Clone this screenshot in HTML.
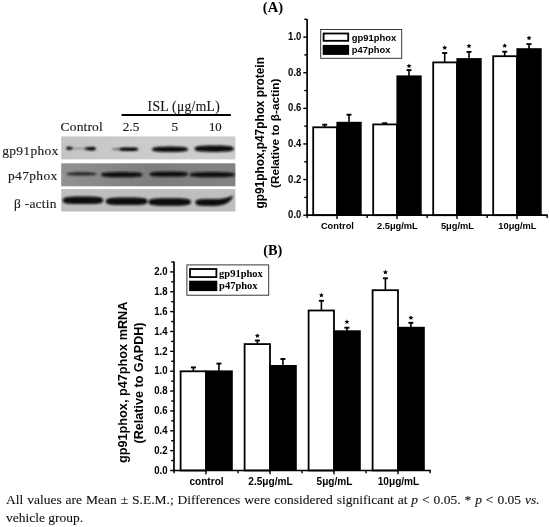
<!DOCTYPE html>
<html><head><meta charset="utf-8"><style>
html,body{margin:0;padding:0;background:#fff;width:550px;height:527px;overflow:hidden;position:relative}
#cap{position:absolute;left:5.6px;top:490.9px;width:533.6px;font-family:"Liberation Serif",serif;font-size:13.5px;line-height:17.6px;text-align:justify;color:#111;will-change:transform;-webkit-text-stroke:0.1px #111}
</style></head><body>
<svg width="550" height="527" viewBox="0 0 550 527" style="position:absolute;left:0;top:0;will-change:transform"><defs><filter id="bl" x="-20%" y="-100%" width="140%" height="300%"><feGaussianBlur stdDeviation="0.85"/></filter><filter id="bl2" x="-20%" y="-100%" width="140%" height="300%"><feGaussianBlur stdDeviation="1.3"/></filter></defs><defs><linearGradient id="g2" x1="0" x2="1" y1="0" y2="0"><stop offset="0" stop-color="#929292"/><stop offset="0.5" stop-color="#7e7e7e"/><stop offset="1" stop-color="#838383"/></linearGradient><linearGradient id="g1" x1="0" x2="1" y1="0" y2="0"><stop offset="0" stop-color="#c4c4c4"/><stop offset="0.4" stop-color="#cbcbcb"/><stop offset="1" stop-color="#cdcdcd"/></linearGradient></defs><rect x="61.2" y="136.4" width="174.2" height="23" fill="url(#g1)"/><rect x="61.2" y="163.3" width="174.2" height="23" fill="url(#g2)"/><rect x="61.2" y="189.1" width="174.2" height="22.4" fill="#bebebe"/><polygon points="70.00,148.50 70.40,148.28 70.80,148.19 71.20,148.13 71.60,148.08 72.00,148.04 72.40,148.00 72.80,147.97 73.20,147.94 73.60,147.92 74.00,147.89 74.40,147.87 74.80,147.86 75.20,147.84 75.60,147.83 76.00,147.82 76.40,147.81 76.80,147.81 77.20,147.80 77.60,147.80 78.00,147.80 78.40,147.80 78.80,147.80 79.20,147.81 79.60,147.81 80.00,147.82 80.40,147.83 80.80,147.84 81.20,147.86 81.60,147.87 82.00,147.89 82.40,147.92 82.80,147.94 83.20,147.97 83.60,148.00 84.00,148.04 84.40,148.08 84.80,148.13 85.20,148.19 85.60,148.28 86.00,148.50 86.00,148.50 85.60,148.72 85.20,148.81 84.80,148.87 84.40,148.92 84.00,148.96 83.60,149.00 83.20,149.03 82.80,149.06 82.40,149.08 82.00,149.11 81.60,149.13 81.20,149.14 80.80,149.16 80.40,149.17 80.00,149.18 79.60,149.19 79.20,149.19 78.80,149.20 78.40,149.20 78.00,149.20 77.60,149.20 77.20,149.20 76.80,149.19 76.40,149.19 76.00,149.18 75.60,149.17 75.20,149.16 74.80,149.14 74.40,149.13 74.00,149.11 73.60,149.08 73.20,149.06 72.80,149.03 72.40,149.00 72.00,148.96 71.60,148.92 71.20,148.87 70.80,148.81 70.40,148.72 70.00,148.50" fill="#8a8a8a" filter="url(#bl)"/><polygon points="66.20,148.30 66.37,147.63 66.54,147.40 66.71,147.25 66.88,147.13 67.05,147.04 67.22,146.97 67.39,146.91 67.56,146.87 67.73,146.83 67.90,146.81 68.07,146.79 68.24,146.78 68.41,146.77 68.58,146.77 68.75,146.78 68.92,146.78 69.09,146.80 69.26,146.81 69.43,146.83 69.60,146.85 69.77,146.87 69.94,146.90 70.11,146.92 70.28,146.96 70.45,146.99 70.62,147.02 70.79,147.06 70.96,147.10 71.13,147.15 71.30,147.20 71.47,147.25 71.64,147.31 71.81,147.37 71.98,147.43 72.15,147.50 72.32,147.58 72.49,147.67 72.66,147.78 72.83,147.93 73.00,148.30 73.00,148.30 72.83,148.67 72.66,148.82 72.49,148.93 72.32,149.02 72.15,149.10 71.98,149.17 71.81,149.23 71.64,149.29 71.47,149.35 71.30,149.40 71.13,149.45 70.96,149.50 70.79,149.54 70.62,149.58 70.45,149.61 70.28,149.64 70.11,149.68 69.94,149.70 69.77,149.73 69.60,149.75 69.43,149.77 69.26,149.79 69.09,149.80 68.92,149.82 68.75,149.82 68.58,149.83 68.41,149.83 68.24,149.82 68.07,149.81 67.90,149.79 67.73,149.77 67.56,149.73 67.39,149.69 67.22,149.63 67.05,149.56 66.88,149.47 66.71,149.35 66.54,149.20 66.37,148.97 66.20,148.30" fill="#000" filter="url(#bl)"/><polygon points="84.00,148.70 84.30,148.30 84.60,148.15 84.90,148.03 85.20,147.93 85.50,147.84 85.80,147.76 86.10,147.68 86.40,147.61 86.70,147.54 87.00,147.48 87.30,147.42 87.60,147.37 87.90,147.32 88.20,147.27 88.50,147.23 88.80,147.19 89.10,147.15 89.40,147.11 89.70,147.08 90.00,147.05 90.30,147.02 90.60,147.00 90.90,146.98 91.20,146.96 91.50,146.94 91.80,146.94 92.10,146.93 92.40,146.94 92.70,146.95 93.00,146.97 93.30,146.99 93.60,147.03 93.90,147.08 94.20,147.14 94.50,147.22 94.80,147.33 95.10,147.46 95.40,147.64 95.70,147.90 96.00,148.70 96.00,148.70 95.70,149.50 95.40,149.76 95.10,149.94 94.80,150.07 94.50,150.18 94.20,150.26 93.90,150.32 93.60,150.37 93.30,150.41 93.00,150.43 92.70,150.45 92.40,150.46 92.10,150.47 91.80,150.46 91.50,150.46 91.20,150.44 90.90,150.42 90.60,150.40 90.30,150.38 90.00,150.35 89.70,150.32 89.40,150.29 89.10,150.25 88.80,150.21 88.50,150.17 88.20,150.13 87.90,150.08 87.60,150.03 87.30,149.98 87.00,149.92 86.70,149.86 86.40,149.79 86.10,149.72 85.80,149.64 85.50,149.56 85.20,149.47 84.90,149.37 84.60,149.25 84.30,149.10 84.00,148.70" fill="#050505" filter="url(#bl)"/><polygon points="111.00,149.20 111.35,148.97 111.70,148.87 112.05,148.78 112.40,148.71 112.75,148.64 113.10,148.58 113.45,148.53 113.80,148.47 114.15,148.42 114.50,148.37 114.85,148.32 115.20,148.28 115.55,148.23 115.90,148.19 116.25,148.15 116.60,148.12 116.95,148.08 117.30,148.05 117.65,148.03 118.00,148.00 118.35,147.98 118.70,147.96 119.05,147.94 119.40,147.93 119.75,147.92 120.10,147.92 120.45,147.92 120.80,147.92 121.15,147.94 121.50,147.95 121.85,147.98 122.20,148.01 122.55,148.05 122.90,148.10 123.25,148.17 123.60,148.25 123.95,148.35 124.30,148.49 124.65,148.68 125.00,149.20 125.00,149.20 124.65,149.72 124.30,149.91 123.95,150.05 123.60,150.15 123.25,150.23 122.90,150.30 122.55,150.35 122.20,150.39 121.85,150.42 121.50,150.45 121.15,150.46 120.80,150.48 120.45,150.48 120.10,150.48 119.75,150.48 119.40,150.47 119.05,150.46 118.70,150.44 118.35,150.42 118.00,150.40 117.65,150.37 117.30,150.35 116.95,150.32 116.60,150.28 116.25,150.25 115.90,150.21 115.55,150.17 115.20,150.12 114.85,150.08 114.50,150.03 114.15,149.98 113.80,149.93 113.45,149.87 113.10,149.82 112.75,149.76 112.40,149.69 112.05,149.62 111.70,149.53 111.35,149.43 111.00,149.20" fill="#6a6a6a" filter="url(#bl)"/><polygon points="119.50,149.20 119.97,148.54 120.45,148.32 120.92,148.17 121.40,148.05 121.88,147.95 122.35,147.87 122.83,147.80 123.30,147.74 123.78,147.68 124.25,147.63 124.72,147.59 125.20,147.55 125.67,147.52 126.15,147.50 126.62,147.47 127.10,147.45 127.58,147.43 128.05,147.42 128.53,147.41 129.00,147.40 129.47,147.39 129.95,147.39 130.43,147.38 130.90,147.38 131.38,147.38 131.85,147.39 132.32,147.40 132.80,147.42 133.28,147.44 133.75,147.47 134.22,147.50 134.70,147.55 135.18,147.60 135.65,147.67 136.12,147.75 136.60,147.85 137.07,147.98 137.55,148.15 138.03,148.40 138.50,149.20 138.50,149.20 138.03,150.00 137.55,150.25 137.07,150.42 136.60,150.55 136.12,150.65 135.65,150.73 135.18,150.80 134.70,150.85 134.22,150.90 133.75,150.93 133.28,150.96 132.80,150.98 132.32,151.00 131.85,151.01 131.38,151.02 130.90,151.02 130.43,151.02 129.95,151.01 129.47,151.01 129.00,151.00 128.53,150.99 128.05,150.98 127.58,150.97 127.10,150.95 126.62,150.93 126.15,150.90 125.67,150.88 125.20,150.85 124.72,150.81 124.25,150.77 123.78,150.72 123.30,150.66 122.83,150.60 122.35,150.53 121.88,150.45 121.40,150.35 120.92,150.23 120.45,150.08 119.97,149.86 119.50,149.20" fill="#050505" filter="url(#bl)"/><polygon points="151.80,149.30 152.71,147.98 153.62,147.64 154.53,147.42 155.44,147.25 156.35,147.11 157.26,147.01 158.17,146.92 159.08,146.85 159.99,146.79 160.90,146.75 161.81,146.71 162.72,146.68 163.63,146.65 164.54,146.63 165.45,146.62 166.36,146.61 167.27,146.60 168.18,146.60 169.09,146.60 170.00,146.60 170.91,146.60 171.82,146.60 172.73,146.60 173.64,146.61 174.55,146.62 175.46,146.63 176.37,146.65 177.28,146.68 178.19,146.71 179.10,146.75 180.01,146.79 180.92,146.85 181.83,146.92 182.74,147.01 183.65,147.11 184.56,147.25 185.47,147.42 186.38,147.64 187.29,147.98 188.20,149.30 188.20,149.30 187.29,150.62 186.38,150.96 185.47,151.18 184.56,151.35 183.65,151.49 182.74,151.59 181.83,151.68 180.92,151.75 180.01,151.81 179.10,151.85 178.19,151.89 177.28,151.92 176.37,151.95 175.46,151.97 174.55,151.98 173.64,151.99 172.73,152.00 171.82,152.00 170.91,152.00 170.00,152.00 169.09,152.00 168.18,152.00 167.27,152.00 166.36,151.99 165.45,151.98 164.54,151.97 163.63,151.95 162.72,151.92 161.81,151.89 160.90,151.85 159.99,151.81 159.08,151.75 158.17,151.68 157.26,151.59 156.35,151.49 155.44,151.35 154.53,151.18 153.62,150.96 152.71,150.62 151.80,149.30" fill="#0c0c0c" filter="url(#bl)"/><polygon points="194.30,148.70 195.29,147.14 196.29,146.73 197.28,146.47 198.27,146.27 199.26,146.11 200.25,145.98 201.25,145.88 202.24,145.80 203.23,145.73 204.23,145.67 205.22,145.63 206.21,145.59 207.20,145.56 208.19,145.54 209.19,145.52 210.18,145.51 211.17,145.51 212.17,145.50 213.16,145.50 214.15,145.50 215.14,145.50 216.13,145.50 217.13,145.51 218.12,145.51 219.11,145.52 220.11,145.54 221.10,145.56 222.09,145.59 223.08,145.63 224.07,145.67 225.07,145.73 226.06,145.80 227.05,145.88 228.05,145.98 229.04,146.11 230.03,146.27 231.02,146.47 232.01,146.73 233.01,147.14 234.00,148.70 234.00,148.70 233.01,150.26 232.01,150.67 231.02,150.93 230.03,151.13 229.04,151.29 228.05,151.42 227.05,151.52 226.06,151.60 225.07,151.67 224.07,151.73 223.08,151.77 222.09,151.81 221.10,151.84 220.11,151.86 219.11,151.88 218.12,151.89 217.13,151.89 216.13,151.90 215.14,151.90 214.15,151.90 213.16,151.90 212.17,151.90 211.17,151.89 210.18,151.89 209.19,151.88 208.19,151.86 207.20,151.84 206.21,151.81 205.22,151.77 204.23,151.73 203.23,151.67 202.24,151.60 201.25,151.52 200.25,151.42 199.26,151.29 198.27,151.13 197.28,150.93 196.29,150.67 195.29,150.26 194.30,148.70" fill="#0a0a0a" filter="url(#bl)"/><polygon points="66.60,173.90 67.35,173.18 68.11,172.98 68.86,172.84 69.62,172.73 70.38,172.65 71.13,172.58 71.88,172.53 72.64,172.48 73.39,172.44 74.15,172.41 74.91,172.38 75.66,172.36 76.41,172.34 77.17,172.33 77.92,172.32 78.68,172.31 79.44,172.30 80.19,172.30 80.94,172.30 81.70,172.30 82.45,172.30 83.21,172.30 83.97,172.30 84.72,172.31 85.47,172.32 86.23,172.33 86.98,172.34 87.74,172.36 88.50,172.38 89.25,172.41 90.00,172.44 90.76,172.48 91.52,172.53 92.27,172.58 93.03,172.65 93.78,172.73 94.53,172.84 95.29,172.98 96.05,173.18 96.80,173.90 96.80,173.90 96.05,174.62 95.29,174.82 94.53,174.96 93.78,175.07 93.03,175.15 92.27,175.22 91.52,175.27 90.76,175.32 90.00,175.36 89.25,175.39 88.50,175.42 87.74,175.44 86.98,175.46 86.23,175.47 85.47,175.48 84.72,175.49 83.97,175.50 83.21,175.50 82.45,175.50 81.70,175.50 80.94,175.50 80.19,175.50 79.44,175.50 78.68,175.49 77.92,175.48 77.17,175.47 76.41,175.46 75.66,175.44 74.91,175.42 74.15,175.39 73.39,175.36 72.64,175.32 71.88,175.27 71.13,175.22 70.38,175.15 69.62,175.07 68.86,174.96 68.11,174.82 67.35,174.62 66.60,173.90" fill="#222" filter="url(#bl)"/><polygon points="100.80,174.70 101.84,173.34 102.89,173.02 103.94,172.81 104.98,172.65 106.02,172.53 107.07,172.44 108.11,172.36 109.16,172.30 110.20,172.25 111.25,172.21 112.30,172.18 113.34,172.16 114.38,172.14 115.43,172.12 116.47,172.11 117.52,172.11 118.56,172.10 119.61,172.10 120.66,172.10 121.70,172.10 122.75,172.10 123.79,172.10 124.83,172.10 125.88,172.11 126.92,172.11 127.97,172.12 129.01,172.14 130.06,172.16 131.10,172.18 132.15,172.21 133.19,172.25 134.24,172.30 135.28,172.36 136.33,172.44 137.38,172.53 138.42,172.65 139.47,172.81 140.51,173.02 141.56,173.34 142.60,174.70 142.60,174.70 141.56,176.06 140.51,176.38 139.47,176.59 138.42,176.75 137.38,176.87 136.33,176.96 135.28,177.04 134.24,177.10 133.19,177.15 132.15,177.19 131.10,177.22 130.06,177.24 129.01,177.26 127.97,177.28 126.92,177.29 125.88,177.29 124.83,177.30 123.79,177.30 122.75,177.30 121.70,177.30 120.66,177.30 119.61,177.30 118.56,177.30 117.52,177.29 116.47,177.29 115.43,177.28 114.38,177.26 113.34,177.24 112.30,177.22 111.25,177.19 110.20,177.15 109.16,177.10 108.11,177.04 107.07,176.96 106.02,176.87 104.98,176.75 103.94,176.59 102.89,176.38 101.84,176.06 100.80,174.70" fill="#0e0e0e" filter="url(#bl)"/><polygon points="149.40,174.20 150.37,172.84 151.34,172.52 152.31,172.31 153.28,172.15 154.25,172.03 155.22,171.94 156.19,171.86 157.16,171.80 158.13,171.75 159.10,171.71 160.07,171.68 161.04,171.66 162.01,171.64 162.98,171.62 163.95,171.61 164.92,171.61 165.89,171.60 166.86,171.60 167.83,171.60 168.80,171.60 169.77,171.60 170.74,171.60 171.71,171.60 172.68,171.61 173.65,171.61 174.62,171.62 175.59,171.64 176.56,171.66 177.53,171.68 178.50,171.71 179.47,171.75 180.44,171.80 181.41,171.86 182.38,171.94 183.35,172.03 184.32,172.15 185.29,172.31 186.26,172.52 187.23,172.84 188.20,174.20 188.20,174.20 187.23,175.56 186.26,175.88 185.29,176.09 184.32,176.25 183.35,176.37 182.38,176.46 181.41,176.54 180.44,176.60 179.47,176.65 178.50,176.69 177.53,176.72 176.56,176.74 175.59,176.76 174.62,176.78 173.65,176.79 172.68,176.79 171.71,176.80 170.74,176.80 169.77,176.80 168.80,176.80 167.83,176.80 166.86,176.80 165.89,176.80 164.92,176.79 163.95,176.79 162.98,176.78 162.01,176.76 161.04,176.74 160.07,176.72 159.10,176.69 158.13,176.65 157.16,176.60 156.19,176.54 155.22,176.46 154.25,176.37 153.28,176.25 152.31,176.09 151.34,175.88 150.37,175.56 149.40,174.20" fill="#0e0e0e" filter="url(#bl)"/><polygon points="189.60,174.70 190.73,173.34 191.87,173.02 193.00,172.81 194.14,172.65 195.28,172.53 196.41,172.44 197.54,172.36 198.68,172.30 199.81,172.25 200.95,172.21 202.09,172.18 203.22,172.16 204.35,172.14 205.49,172.12 206.62,172.11 207.76,172.11 208.89,172.10 210.03,172.10 211.16,172.10 212.30,172.10 213.44,172.10 214.57,172.10 215.70,172.10 216.84,172.11 217.97,172.11 219.11,172.12 220.25,172.14 221.38,172.16 222.51,172.18 223.65,172.21 224.78,172.25 225.92,172.30 227.06,172.36 228.19,172.44 229.32,172.53 230.46,172.65 231.59,172.81 232.73,173.02 233.87,173.34 235.00,174.70 235.00,174.70 233.87,176.06 232.73,176.38 231.59,176.59 230.46,176.75 229.32,176.87 228.19,176.96 227.06,177.04 225.92,177.10 224.78,177.15 223.65,177.19 222.51,177.22 221.38,177.24 220.25,177.26 219.11,177.28 217.97,177.29 216.84,177.29 215.70,177.30 214.57,177.30 213.44,177.30 212.30,177.30 211.16,177.30 210.03,177.30 208.89,177.30 207.76,177.29 206.62,177.29 205.49,177.28 204.35,177.26 203.22,177.24 202.09,177.22 200.95,177.19 199.81,177.15 198.68,177.10 197.54,177.04 196.41,176.96 195.28,176.87 194.14,176.75 193.00,176.59 191.87,176.38 190.73,176.06 189.60,174.70" fill="#0e0e0e" filter="url(#bl)"/><polygon points="62.60,200.30 63.62,198.19 64.64,197.73 65.66,197.43 66.68,197.22 67.70,197.06 68.72,196.93 69.74,196.83 70.76,196.75 71.78,196.69 72.80,196.63 73.82,196.59 74.84,196.56 75.86,196.54 76.88,196.53 77.90,196.51 78.92,196.51 79.94,196.50 80.96,196.50 81.98,196.50 83.00,196.50 84.02,196.50 85.04,196.50 86.06,196.50 87.08,196.51 88.10,196.51 89.12,196.53 90.14,196.54 91.16,196.56 92.18,196.59 93.20,196.63 94.22,196.69 95.24,196.75 96.26,196.83 97.28,196.93 98.30,197.06 99.32,197.22 100.34,197.43 101.36,197.73 102.38,198.19 103.40,200.30 103.40,200.30 102.38,202.41 101.36,202.87 100.34,203.17 99.32,203.38 98.30,203.54 97.28,203.67 96.26,203.77 95.24,203.85 94.22,203.91 93.20,203.97 92.18,204.01 91.16,204.04 90.14,204.06 89.12,204.07 88.10,204.09 87.08,204.09 86.06,204.10 85.04,204.10 84.02,204.10 83.00,204.10 81.98,204.10 80.96,204.10 79.94,204.10 78.92,204.09 77.90,204.09 76.88,204.07 75.86,204.06 74.84,204.04 73.82,204.01 72.80,203.97 71.78,203.91 70.76,203.85 69.74,203.77 68.72,203.67 67.70,203.54 66.68,203.38 65.66,203.17 64.64,202.87 63.62,202.41 62.60,200.30" fill="#080808" filter="url(#bl)"/><polygon points="105.60,201.30 106.66,199.19 107.71,198.73 108.77,198.43 109.82,198.22 110.88,198.06 111.93,197.93 112.98,197.83 114.04,197.75 115.09,197.69 116.15,197.63 117.20,197.59 118.26,197.56 119.31,197.54 120.37,197.53 121.42,197.51 122.48,197.51 123.53,197.50 124.59,197.50 125.65,197.50 126.70,197.50 127.75,197.50 128.81,197.50 129.87,197.50 130.92,197.51 131.97,197.51 133.03,197.53 134.09,197.54 135.14,197.56 136.19,197.59 137.25,197.63 138.31,197.69 139.36,197.75 140.42,197.83 141.47,197.93 142.53,198.06 143.58,198.22 144.64,198.43 145.69,198.73 146.75,199.19 147.80,201.30 147.80,201.30 146.75,203.41 145.69,203.87 144.64,204.17 143.58,204.38 142.53,204.54 141.47,204.67 140.42,204.77 139.36,204.85 138.31,204.91 137.25,204.97 136.19,205.01 135.14,205.04 134.09,205.06 133.03,205.07 131.97,205.09 130.92,205.09 129.87,205.10 128.81,205.10 127.75,205.10 126.70,205.10 125.65,205.10 124.59,205.10 123.53,205.10 122.48,205.09 121.42,205.09 120.37,205.07 119.31,205.06 118.26,205.04 117.20,205.01 116.15,204.97 115.09,204.91 114.04,204.85 112.98,204.77 111.93,204.67 110.88,204.54 109.82,204.38 108.77,204.17 107.71,203.87 106.66,203.41 105.60,201.30" fill="#080808" filter="url(#bl)"/><polygon points="148.20,202.00 149.27,199.89 150.35,199.43 151.42,199.13 152.50,198.92 153.57,198.76 154.65,198.63 155.72,198.53 156.80,198.45 157.88,198.39 158.95,198.33 160.02,198.29 161.10,198.26 162.17,198.24 163.25,198.23 164.32,198.21 165.40,198.21 166.47,198.20 167.55,198.20 168.62,198.20 169.70,198.20 170.77,198.20 171.85,198.20 172.92,198.20 174.00,198.21 175.07,198.21 176.15,198.23 177.22,198.24 178.30,198.26 179.38,198.29 180.45,198.33 181.52,198.39 182.60,198.45 183.67,198.53 184.75,198.63 185.82,198.76 186.90,198.92 187.97,199.13 189.05,199.43 190.12,199.89 191.20,202.00 191.20,202.00 190.12,204.11 189.05,204.57 187.97,204.87 186.90,205.08 185.82,205.24 184.75,205.37 183.67,205.47 182.60,205.55 181.52,205.61 180.45,205.67 179.38,205.71 178.30,205.74 177.22,205.76 176.15,205.77 175.07,205.79 174.00,205.79 172.92,205.80 171.85,205.80 170.77,205.80 169.70,205.80 168.62,205.80 167.55,205.80 166.47,205.80 165.40,205.79 164.32,205.79 163.25,205.77 162.17,205.76 161.10,205.74 160.02,205.71 158.95,205.67 157.88,205.61 156.80,205.55 155.72,205.47 154.65,205.37 153.57,205.24 152.50,205.08 151.42,204.87 150.35,204.57 149.27,204.11 148.20,202.00" fill="#080808" filter="url(#bl)"/><path d="M195.3,202.3 C195.3,199.8 199,199.0 205,198.9 L219,198.9 C225,198.7 229,197.2 232.6,195.4 C233.2,197.5 231,200.5 227.5,202.8 C224,205.2 219,205.9 212,205.9 L203,205.8 C197.5,205.6 195.3,204.5 195.3,202.3 Z" fill="#080808" filter="url(#bl)"/><text transform="translate(58.60,154.70) scale(1,0.900)" text-anchor="end" letter-spacing="0.30" font-family='"Liberation Serif", serif' font-size="13.50" fill="#1a1a1a" stroke="#1a1a1a" stroke-width="0.15">gp91phox</text><text transform="translate(57.60,179.50) scale(1,0.900)" text-anchor="end" letter-spacing="0.35" font-family='"Liberation Serif", serif' font-size="13.50" fill="#1a1a1a" stroke="#1a1a1a" stroke-width="0.15">p47phox</text><text transform="translate(56.60,208.00) scale(1,0.900)" text-anchor="end" letter-spacing="0.20" font-family='"Liberation Serif", serif' font-size="13.50" fill="#1a1a1a" stroke="#1a1a1a" stroke-width="0.15">β -actin</text><text x="60.6" y="131.3" letter-spacing="0.15" font-size="13.5" font-family='"Liberation Serif", serif' fill='#1a1a1a' stroke='#1a1a1a' stroke-width='0.15'>Control</text><text x="122.7" y="131.4" font-size="13.3" font-family='"Liberation Serif", serif' fill='#1a1a1a' stroke='#1a1a1a' stroke-width='0.15'>2.5</text><text x="171.6" y="131.4" font-size="13.3" font-family='"Liberation Serif", serif' fill='#1a1a1a' stroke='#1a1a1a' stroke-width='0.15'>5</text><text x="208.9" y="131.4" font-size="12.8" font-family='"Liberation Serif", serif' fill='#1a1a1a' stroke='#1a1a1a' stroke-width='0.15'>10</text><text x="147.6" y="111.4" letter-spacing="0.3" font-size="13.6" font-family='"Liberation Serif", serif' fill='#1a1a1a' stroke='#1a1a1a' stroke-width='0.15'>ISL (μg/mL)</text><line x1="121.6" y1="115.1" x2="230.9" y2="115.1" stroke="#000" stroke-width="2"/><rect x="313.20" y="127.30" width="23.80" height="87.90" fill="#fff" stroke="#000" stroke-width="1.80"/><line x1="324.70" y1="127.40" x2="324.70" y2="124.70" stroke="#000" stroke-width="1.6"/><line x1="322.20" y1="124.70" x2="327.20" y2="124.70" stroke="#000" stroke-width="1.9"/><line x1="349.00" y1="122.80" x2="349.00" y2="114.70" stroke="#000" stroke-width="1.6"/><line x1="346.50" y1="114.70" x2="351.50" y2="114.70" stroke="#000" stroke-width="1.9"/><rect x="336.40" y="121.80" width="25.30" height="93.40" fill="#000"/><rect x="373.20" y="124.40" width="23.80" height="90.80" fill="#fff" stroke="#000" stroke-width="1.80"/><line x1="384.70" y1="124.50" x2="384.70" y2="123.20" stroke="#000" stroke-width="1.6"/><line x1="382.20" y1="123.20" x2="387.20" y2="123.20" stroke="#000" stroke-width="1.9"/><line x1="409.00" y1="76.40" x2="409.00" y2="70.10" stroke="#000" stroke-width="1.6"/><line x1="406.50" y1="70.10" x2="411.50" y2="70.10" stroke="#000" stroke-width="1.9"/><rect x="396.40" y="75.40" width="25.30" height="139.80" fill="#000"/><polygon points="409.00,63.45 409.72,65.01 411.43,65.21 410.16,66.38 410.50,68.06 409.00,67.22 407.50,68.06 407.84,66.38 406.57,65.21 408.28,65.01" fill="#000"/><rect x="433.20" y="62.40" width="23.80" height="152.80" fill="#fff" stroke="#000" stroke-width="1.80"/><line x1="444.70" y1="62.50" x2="444.70" y2="53.00" stroke="#000" stroke-width="1.6"/><line x1="442.20" y1="53.00" x2="447.20" y2="53.00" stroke="#000" stroke-width="1.9"/><line x1="469.00" y1="59.10" x2="469.00" y2="51.90" stroke="#000" stroke-width="1.6"/><line x1="466.50" y1="51.90" x2="471.50" y2="51.90" stroke="#000" stroke-width="1.9"/><rect x="456.40" y="58.10" width="25.30" height="157.10" fill="#000"/><polygon points="444.70,45.25 445.42,46.81 447.13,47.01 445.86,48.18 446.20,49.86 444.70,49.02 443.20,49.86 443.54,48.18 442.27,47.01 443.98,46.81" fill="#000"/><polygon points="469.00,43.55 469.72,45.11 471.43,45.31 470.16,46.48 470.50,48.16 469.00,47.32 467.50,48.16 467.84,46.48 466.57,45.31 468.28,45.11" fill="#000"/><rect x="493.20" y="56.20" width="23.80" height="159.00" fill="#fff" stroke="#000" stroke-width="1.80"/><line x1="504.70" y1="56.30" x2="504.70" y2="51.70" stroke="#000" stroke-width="1.6"/><line x1="502.20" y1="51.70" x2="507.20" y2="51.70" stroke="#000" stroke-width="1.9"/><line x1="529.00" y1="49.20" x2="529.00" y2="44.10" stroke="#000" stroke-width="1.6"/><line x1="526.50" y1="44.10" x2="531.50" y2="44.10" stroke="#000" stroke-width="1.9"/><rect x="516.40" y="48.20" width="25.30" height="167.00" fill="#000"/><polygon points="504.70,43.15 505.42,44.71 507.13,44.91 505.86,46.08 506.20,47.76 504.70,46.92 503.20,47.76 503.54,46.08 502.27,44.91 503.98,44.71" fill="#000"/><polygon points="529.00,35.55 529.72,37.11 531.43,37.31 530.16,38.48 530.50,40.16 529.00,39.32 527.50,40.16 527.84,38.48 526.57,37.31 528.28,37.11" fill="#000"/><line x1="307.10" y1="19.00" x2="307.10" y2="216.05" stroke="#000" stroke-width="1.7"/><line x1="306.25" y1="215.20" x2="547.80" y2="215.20" stroke="#000" stroke-width="1.7"/><line x1="303.30" y1="215.20" x2="307.10" y2="215.20" stroke="#000" stroke-width="1.4"/><text transform="translate(301.30,218.34) scale(1,1.100)" text-anchor="end" font-family='"Liberation Sans", sans-serif' font-weight="bold" font-size="9.50">0.0</text><line x1="304.30" y1="197.39" x2="307.10" y2="197.39" stroke="#000" stroke-width="1.4"/><line x1="303.30" y1="179.58" x2="307.10" y2="179.58" stroke="#000" stroke-width="1.4"/><text transform="translate(301.30,182.72) scale(1,1.100)" text-anchor="end" font-family='"Liberation Sans", sans-serif' font-weight="bold" font-size="9.50">0.2</text><line x1="304.30" y1="161.77" x2="307.10" y2="161.77" stroke="#000" stroke-width="1.4"/><line x1="303.30" y1="143.96" x2="307.10" y2="143.96" stroke="#000" stroke-width="1.4"/><text transform="translate(301.30,147.10) scale(1,1.100)" text-anchor="end" font-family='"Liberation Sans", sans-serif' font-weight="bold" font-size="9.50">0.4</text><line x1="304.30" y1="126.15" x2="307.10" y2="126.15" stroke="#000" stroke-width="1.4"/><line x1="303.30" y1="108.34" x2="307.10" y2="108.34" stroke="#000" stroke-width="1.4"/><text transform="translate(301.30,111.48) scale(1,1.100)" text-anchor="end" font-family='"Liberation Sans", sans-serif' font-weight="bold" font-size="9.50">0.6</text><line x1="304.30" y1="90.53" x2="307.10" y2="90.53" stroke="#000" stroke-width="1.4"/><line x1="303.30" y1="72.72" x2="307.10" y2="72.72" stroke="#000" stroke-width="1.4"/><text transform="translate(301.30,75.86) scale(1,1.100)" text-anchor="end" font-family='"Liberation Sans", sans-serif' font-weight="bold" font-size="9.50">0.8</text><line x1="304.30" y1="54.91" x2="307.10" y2="54.91" stroke="#000" stroke-width="1.4"/><line x1="303.30" y1="37.10" x2="307.10" y2="37.10" stroke="#000" stroke-width="1.4"/><text transform="translate(301.30,40.24) scale(1,1.100)" text-anchor="end" font-family='"Liberation Sans", sans-serif' font-weight="bold" font-size="9.50">1.0</text><line x1="304.30" y1="19.29" x2="307.10" y2="19.29" stroke="#000" stroke-width="1.4"/><line x1="337.00" y1="215.20" x2="337.00" y2="219.00" stroke="#000" stroke-width="1.4"/><line x1="397.00" y1="215.20" x2="397.00" y2="219.00" stroke="#000" stroke-width="1.4"/><line x1="457.00" y1="215.20" x2="457.00" y2="219.00" stroke="#000" stroke-width="1.4"/><line x1="517.00" y1="215.20" x2="517.00" y2="219.00" stroke="#000" stroke-width="1.4"/><line x1="307.10" y1="215.20" x2="307.10" y2="218.00" stroke="#000" stroke-width="1.4"/><line x1="367.10" y1="215.20" x2="367.10" y2="218.00" stroke="#000" stroke-width="1.4"/><line x1="427.10" y1="215.20" x2="427.10" y2="218.00" stroke="#000" stroke-width="1.4"/><line x1="487.10" y1="215.20" x2="487.10" y2="218.00" stroke="#000" stroke-width="1.4"/><line x1="547.10" y1="215.20" x2="547.10" y2="218.00" stroke="#000" stroke-width="1.4"/><text transform="translate(337.40,229.4) scale(1,1.04)" text-anchor="middle" font-family='"Liberation Sans", sans-serif' font-weight="bold" font-size="9.3">Control</text><text transform="translate(397.40,229.4) scale(1,1.04)" text-anchor="middle" font-family='"Liberation Sans", sans-serif' font-weight="bold" font-size="9.3">2.5μg/mL</text><text transform="translate(457.40,229.4) scale(1,1.04)" text-anchor="middle" font-family='"Liberation Sans", sans-serif' font-weight="bold" font-size="9.3">5μg/mL</text><text transform="translate(517.40,229.4) scale(1,1.04)" text-anchor="middle" font-family='"Liberation Sans", sans-serif' font-weight="bold" font-size="9.3">10μg/mL</text><rect x="320.7" y="29.5" width="81.0" height="28.8" fill="#fff" stroke="#222" stroke-width="0.9"/><rect x="323.6" y="33.5" width="24.6" height="7.3" fill="#fff" stroke="#000" stroke-width="1.8"/><rect x="322.7" y="44.9" width="26.4" height="10" fill="#000"/><text transform="translate(351.8,40.9) scale(1,1.06)" font-family='"Liberation Sans", sans-serif' font-weight="bold" font-size="9.4">gp91phox</text><text transform="translate(351.8,52.7) scale(1,1.06)" font-family='"Liberation Sans", sans-serif' font-weight="bold" font-size="9.4">p47phox</text><text transform="translate(264.4,132.8) rotate(-90)" text-anchor="middle" font-family='"Liberation Sans", sans-serif' font-weight="bold" font-size="11.85">gp91phox,p47phox protein</text><text transform="translate(279.0,133.3) rotate(-90)" text-anchor="middle" font-family='"Liberation Sans", sans-serif' font-weight="bold" font-size="11.8">(Relative to β-actin)</text><text x="262.8" y="12" font-family='"Liberation Serif", serif' font-weight="bold" font-size="14.6">(A)</text><rect x="180.60" y="371.30" width="25.40" height="99.20" fill="#fff" stroke="#000" stroke-width="1.80"/><line x1="193.40" y1="371.40" x2="193.40" y2="367.40" stroke="#000" stroke-width="1.6"/><line x1="190.90" y1="367.40" x2="195.90" y2="367.40" stroke="#000" stroke-width="1.9"/><line x1="218.90" y1="371.40" x2="218.90" y2="363.60" stroke="#000" stroke-width="1.6"/><line x1="216.40" y1="363.60" x2="221.40" y2="363.60" stroke="#000" stroke-width="1.9"/><rect x="205.40" y="370.40" width="27.40" height="100.10" fill="#000"/><rect x="244.60" y="344.10" width="25.40" height="126.40" fill="#fff" stroke="#000" stroke-width="1.80"/><line x1="257.40" y1="344.20" x2="257.40" y2="340.50" stroke="#000" stroke-width="1.6"/><line x1="254.90" y1="340.50" x2="259.90" y2="340.50" stroke="#000" stroke-width="1.9"/><line x1="282.90" y1="366.00" x2="282.90" y2="359.00" stroke="#000" stroke-width="1.6"/><line x1="280.40" y1="359.00" x2="285.40" y2="359.00" stroke="#000" stroke-width="1.9"/><rect x="269.40" y="365.00" width="27.40" height="105.50" fill="#000"/><polygon points="257.40,333.25 258.12,334.81 259.83,335.01 258.56,336.18 258.90,337.86 257.40,337.02 255.90,337.86 256.24,336.18 254.97,335.01 256.68,334.81" fill="#000"/><rect x="308.60" y="310.50" width="25.40" height="160.00" fill="#fff" stroke="#000" stroke-width="1.80"/><line x1="321.40" y1="310.60" x2="321.40" y2="300.80" stroke="#000" stroke-width="1.6"/><line x1="318.90" y1="300.80" x2="323.90" y2="300.80" stroke="#000" stroke-width="1.9"/><line x1="346.90" y1="331.30" x2="346.90" y2="327.70" stroke="#000" stroke-width="1.6"/><line x1="344.40" y1="327.70" x2="349.40" y2="327.70" stroke="#000" stroke-width="1.9"/><rect x="333.40" y="330.30" width="27.40" height="140.20" fill="#000"/><polygon points="321.40,292.65 322.12,294.21 323.83,294.41 322.56,295.58 322.90,297.26 321.40,296.42 319.90,297.26 320.24,295.58 318.97,294.41 320.68,294.21" fill="#000"/><polygon points="346.90,319.35 347.62,320.91 349.33,321.11 348.06,322.28 348.40,323.96 346.90,323.12 345.40,323.96 345.74,322.28 344.47,321.11 346.18,320.91" fill="#000"/><rect x="372.60" y="290.20" width="25.40" height="180.30" fill="#fff" stroke="#000" stroke-width="1.80"/><line x1="385.40" y1="290.30" x2="385.40" y2="278.30" stroke="#000" stroke-width="1.6"/><line x1="382.90" y1="278.30" x2="387.90" y2="278.30" stroke="#000" stroke-width="1.9"/><line x1="410.90" y1="327.80" x2="410.90" y2="322.80" stroke="#000" stroke-width="1.6"/><line x1="408.40" y1="322.80" x2="413.40" y2="322.80" stroke="#000" stroke-width="1.9"/><rect x="397.40" y="326.80" width="27.40" height="143.70" fill="#000"/><polygon points="385.40,269.75 386.12,271.31 387.83,271.51 386.56,272.68 386.90,274.36 385.40,273.52 383.90,274.36 384.24,272.68 382.97,271.51 384.68,271.31" fill="#000"/><polygon points="410.90,315.25 411.62,316.81 413.33,317.01 412.06,318.18 412.40,319.86 410.90,319.02 409.40,319.86 409.74,318.18 408.47,317.01 410.18,316.81" fill="#000"/><line x1="174.00" y1="261.40" x2="174.00" y2="471.35" stroke="#000" stroke-width="1.7"/><line x1="173.15" y1="470.50" x2="431.00" y2="470.50" stroke="#000" stroke-width="1.7"/><line x1="170.20" y1="470.50" x2="174.00" y2="470.50" stroke="#000" stroke-width="1.4"/><text transform="translate(167.60,473.75) scale(1,1.120)" text-anchor="end" font-family='"Liberation Sans", sans-serif' font-weight="bold" font-size="9.60">0.0</text><line x1="171.20" y1="460.57" x2="174.00" y2="460.57" stroke="#000" stroke-width="1.4"/><line x1="170.20" y1="450.64" x2="174.00" y2="450.64" stroke="#000" stroke-width="1.4"/><text transform="translate(167.60,453.89) scale(1,1.120)" text-anchor="end" font-family='"Liberation Sans", sans-serif' font-weight="bold" font-size="9.60">0.2</text><line x1="171.20" y1="440.71" x2="174.00" y2="440.71" stroke="#000" stroke-width="1.4"/><line x1="170.20" y1="430.78" x2="174.00" y2="430.78" stroke="#000" stroke-width="1.4"/><text transform="translate(167.60,434.03) scale(1,1.120)" text-anchor="end" font-family='"Liberation Sans", sans-serif' font-weight="bold" font-size="9.60">0.4</text><line x1="171.20" y1="420.85" x2="174.00" y2="420.85" stroke="#000" stroke-width="1.4"/><line x1="170.20" y1="410.92" x2="174.00" y2="410.92" stroke="#000" stroke-width="1.4"/><text transform="translate(167.60,414.17) scale(1,1.120)" text-anchor="end" font-family='"Liberation Sans", sans-serif' font-weight="bold" font-size="9.60">0.6</text><line x1="171.20" y1="400.99" x2="174.00" y2="400.99" stroke="#000" stroke-width="1.4"/><line x1="170.20" y1="391.06" x2="174.00" y2="391.06" stroke="#000" stroke-width="1.4"/><text transform="translate(167.60,394.31) scale(1,1.120)" text-anchor="end" font-family='"Liberation Sans", sans-serif' font-weight="bold" font-size="9.60">0.8</text><line x1="171.20" y1="381.13" x2="174.00" y2="381.13" stroke="#000" stroke-width="1.4"/><line x1="170.20" y1="371.20" x2="174.00" y2="371.20" stroke="#000" stroke-width="1.4"/><text transform="translate(167.60,374.45) scale(1,1.120)" text-anchor="end" font-family='"Liberation Sans", sans-serif' font-weight="bold" font-size="9.60">1.0</text><line x1="171.20" y1="361.27" x2="174.00" y2="361.27" stroke="#000" stroke-width="1.4"/><line x1="170.20" y1="351.34" x2="174.00" y2="351.34" stroke="#000" stroke-width="1.4"/><text transform="translate(167.60,354.59) scale(1,1.120)" text-anchor="end" font-family='"Liberation Sans", sans-serif' font-weight="bold" font-size="9.60">1.2</text><line x1="171.20" y1="341.41" x2="174.00" y2="341.41" stroke="#000" stroke-width="1.4"/><line x1="170.20" y1="331.48" x2="174.00" y2="331.48" stroke="#000" stroke-width="1.4"/><text transform="translate(167.60,334.73) scale(1,1.120)" text-anchor="end" font-family='"Liberation Sans", sans-serif' font-weight="bold" font-size="9.60">1.4</text><line x1="171.20" y1="321.55" x2="174.00" y2="321.55" stroke="#000" stroke-width="1.4"/><line x1="170.20" y1="311.62" x2="174.00" y2="311.62" stroke="#000" stroke-width="1.4"/><text transform="translate(167.60,314.87) scale(1,1.120)" text-anchor="end" font-family='"Liberation Sans", sans-serif' font-weight="bold" font-size="9.60">1.6</text><line x1="171.20" y1="301.69" x2="174.00" y2="301.69" stroke="#000" stroke-width="1.4"/><line x1="170.20" y1="291.76" x2="174.00" y2="291.76" stroke="#000" stroke-width="1.4"/><text transform="translate(167.60,295.01) scale(1,1.120)" text-anchor="end" font-family='"Liberation Sans", sans-serif' font-weight="bold" font-size="9.60">1.8</text><line x1="171.20" y1="281.83" x2="174.00" y2="281.83" stroke="#000" stroke-width="1.4"/><line x1="170.20" y1="271.90" x2="174.00" y2="271.90" stroke="#000" stroke-width="1.4"/><text transform="translate(167.60,275.15) scale(1,1.120)" text-anchor="end" font-family='"Liberation Sans", sans-serif' font-weight="bold" font-size="9.60">2.0</text><line x1="171.20" y1="261.97" x2="174.00" y2="261.97" stroke="#000" stroke-width="1.4"/><line x1="206.00" y1="470.50" x2="206.00" y2="474.30" stroke="#000" stroke-width="1.4"/><line x1="270.00" y1="470.50" x2="270.00" y2="474.30" stroke="#000" stroke-width="1.4"/><line x1="334.00" y1="470.50" x2="334.00" y2="474.30" stroke="#000" stroke-width="1.4"/><line x1="398.00" y1="470.50" x2="398.00" y2="474.30" stroke="#000" stroke-width="1.4"/><line x1="174.00" y1="470.50" x2="174.00" y2="473.30" stroke="#000" stroke-width="1.4"/><line x1="238.00" y1="470.50" x2="238.00" y2="473.30" stroke="#000" stroke-width="1.4"/><line x1="302.00" y1="470.50" x2="302.00" y2="473.30" stroke="#000" stroke-width="1.4"/><line x1="366.00" y1="470.50" x2="366.00" y2="473.30" stroke="#000" stroke-width="1.4"/><line x1="430.00" y1="470.50" x2="430.00" y2="473.30" stroke="#000" stroke-width="1.4"/><text x="206.50" y="484.8" text-anchor="middle" font-family='"Liberation Sans", sans-serif' font-weight="bold" font-size="10.1">control</text><text x="270.50" y="484.8" text-anchor="middle" font-family='"Liberation Sans", sans-serif' font-weight="bold" font-size="10.1">2.5μg/mL</text><text x="334.50" y="484.8" text-anchor="middle" font-family='"Liberation Sans", sans-serif' font-weight="bold" font-size="10.1">5μg/mL</text><text x="398.50" y="484.8" text-anchor="middle" font-family='"Liberation Sans", sans-serif' font-weight="bold" font-size="10.1">10μg/mL</text><rect x="186.9" y="264.9" width="81.8" height="30.3" fill="#fff" stroke="#222" stroke-width="0.9"/><rect x="190.0" y="269.0" width="26.4" height="8.1" fill="#fff" stroke="#000" stroke-width="1.8"/><rect x="189.1" y="280.7" width="28.2" height="10.4" fill="#000"/><text x="219.1" y="277.1" font-family='"Liberation Serif", serif' font-weight="bold" font-size="10.5">gp91phox</text><text x="219.1" y="288.9" font-family='"Liberation Serif", serif' font-weight="bold" font-size="10.5">p47phox</text><text transform="translate(127.2,382.3) rotate(-90)" text-anchor="middle" font-family='"Liberation Sans", sans-serif' font-weight="bold" font-size="12.7">gp91phox, p47phox mRNA</text><text transform="translate(142.8,383) rotate(-90)" text-anchor="middle" font-family='"Liberation Sans", sans-serif' font-weight="bold" font-size="12.6">(Relative to GAPDH)</text><text x="263.3" y="254.6" font-family='"Liberation Serif", serif' font-weight="bold" font-size="14.3">(B)</text></svg><div id="cap">All values are Mean ± S.E.M.; Differences were considered significant at <i>p</i> &lt; 0.05. * <i>p</i> &lt; 0.05 <i>vs.</i> vehicle group.</div>
</body></html>
